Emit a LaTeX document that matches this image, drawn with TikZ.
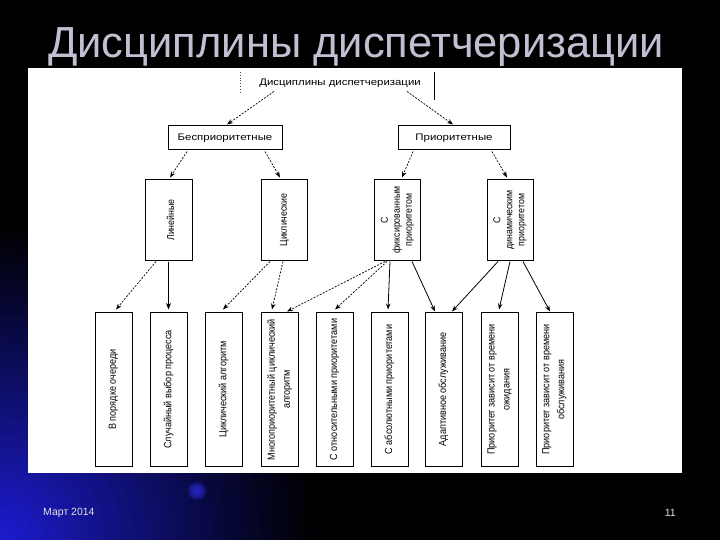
\documentclass[tikz,border=0pt]{standalone}
\usepackage{fontspec}
\setmainfont{Liberation Sans}
\newfontfamily\diagwide[FakeStretch=1.2]{Liberation Sans}
\newfontfamily\diagnarrow[FakeStretch=0.88]{Liberation Sans}
\usetikzlibrary{arrows.meta,calc}
\definecolor{titlegray}{RGB}{192,192,210}
\definecolor{footgray}{RGB}{225,225,225}
\definecolor{bgblueA}{RGB}{28,28,210}
\definecolor{dotblue}{RGB}{40,40,200}
\tikzset{
  lvlbox/.style={draw=black, line width=1bp, inner sep=0pt, fill=white},
  htext/.style={font=\diagwide\fontsize{9.5bp}{11bp}\selectfont, inner sep=2bp},
  vtext/.style={rotate=90, align=center, inner sep=0pt},
  vtwo/.style={vtext, font=\diagnarrow\fontsize{10bp}{12bp}\selectfont},
  vthree/.style={vtext, font=\diagnarrow\fontsize{10.3bp}{15bp}\selectfont},
  darr/.style={line width=0.7bp, dash pattern=on 2bp off 1.4bp, -{Stealth[length=6bp,width=4.5bp]}},
  sarr/.style={line width=0.8bp, -{Stealth[length=6bp,width=4.5bp]}},
  tarr/.style={line width=1.6bp, -{Stealth[length=6.5bp,width=5bp]}}
}
\begin{document}
\begin{tikzpicture}[x=1bp,y=-1bp]
\useasboundingbox (0,0) rectangle (720,540);
% background
\fill[black] (0,0) rectangle (720,540);
\begin{scope}
  \clip (0,0) rectangle (720,540);
  \foreach \r in {320,314,...,4} {
    \pgfmathsetmacro{\p}{100*(1-\r/320)^1.05}
    \fill[bgblueA!\p!black] (0,540) circle[radius=\r bp];
  }
  \foreach \r in {9,7.5,6,4.5,3} {
    \fill[dotblue, opacity=0.3] (197,491) circle[radius=\r bp];
  }
\end{scope}
% title
\node[anchor=base, text=titlegray, font=\fontsize{43.5bp}{48bp}\selectfont, inner sep=0pt] (title) at (356,58) {Дисциплины диспетчеризации};
% panel
\fill[white] (28,68) rectangle (682,473);
% root
\node[htext] (root) at (340,83) {Дисциплины диспетчеризации};
\draw[line width=0.8bp, dotted, black!70] (240,72) -- (240,94);
\draw[line width=1bp] (434,72) -- (434,100);
% level 1
\node[lvlbox, htext, minimum width=114bp, minimum height=24bp] (bp) at (225,138) {Бесприоритетные};
\node[lvlbox, htext, minimum width=112bp, minimum height=24bp] (pr) at (454,138) {Приоритетные};
% level 2
\node[lvlbox, minimum width=47bp, minimum height=80bp] (lin) at (168.5,220) {};
\node[vtwo] (lint) at ([xshift=2bp]lin.center) {Линейные};
\node[lvlbox, minimum width=46bp, minimum height=80bp] (cyc) at (284.5,220) {};
\node[vtwo] (cyct) at (cyc.center) {Циклические};
\node[lvlbox, minimum width=46bp, minimum height=80bp] (fix) at (397.5,220) {};
\node[vtwo] (fixt) at (fix.center) {С\\фиксированным\\приоритетом};
\node[lvlbox, minimum width=46bp, minimum height=80bp] (dyn) at (510,220) {};
\node[vtwo] (dynt) at (dyn.center) {С\\динамическим\\приоритетом};
% level 3
\foreach \n/\x in {b1/113.5,b2/168.5,b3/223.5,b4/279.5,b5/334.5,b6/389.5,b7/443.5,b8/499.5,b9/554.5}{
  \node[lvlbox, minimum width=37bp, minimum height=153bp] (\n) at (\x,389.5) {};
}
\node[vthree] (t1) at (b1.center) {В порядке очереди};
\node[vthree] (t2) at (b2.center) {Случайный выбор процесса};
\node[vthree] (t3) at (b3.center) {Циклический алгоритм};
\node[vthree] (t4) at (b4.center) {Многоприоритетный циклический\\алгоритм};
\node[vthree] (t5) at (b5.center) {С относительными приоритетами};
\node[vthree] (t6) at (b6.center) {С абсолютными приоритетами};
\node[vthree] (t7) at (b7.center) {Адаптивное обслуживание};
\node[vthree] (t8) at (b8.center) {Приоритет зависит от времени\\ожидания};
\node[vthree] (t9) at (b9.center) {Приоритет зависит от времени\\обслуживания};
% connectors root -> level 1
\draw[darr] ([xshift=-66bp,yshift=-2bp]root.south) -- ([xshift=2bp,yshift=1bp]bp.north);
\draw[darr] ([xshift=67bp,yshift=-2bp]root.south) -- ([xshift=-1bp,yshift=1bp]pr.north);
% level 1 -> level 2
\draw[darr] ([xshift=-38bp,yshift=-1bp]bp.south) -- ([xshift=1.5bp,yshift=2bp]lin.north);
\draw[darr] ([xshift=40bp,yshift=-1bp]bp.south) -- ([xshift=-4.5bp,yshift=2bp]cyc.north);
\draw[darr] ([xshift=-41bp,yshift=-1bp]pr.south) -- ([xshift=4.5bp,yshift=2bp]fix.north);
\draw[darr] ([xshift=38bp,yshift=-1bp]pr.south) -- ([xshift=-3bp,yshift=2bp]dyn.north);
% level 2 -> level 3
\draw[darr] ([xshift=-12.5bp,yshift=-1bp]lin.south) -- ([xshift=2.5bp,yshift=3bp]b1.north);
\draw[tarr] ([yshift=-1bp]lin.south) -- ([yshift=3bp]b2.north);
\draw[darr] ([xshift=-14.5bp,yshift=-1bp]cyc.south) -- ([xshift=-0.5bp,yshift=3bp]b3.north);
\draw[darr] ([xshift=-1.5bp,yshift=-1bp]cyc.south) -- ([xshift=-7.5bp,yshift=3bp]b4.north);
\draw[darr] ([xshift=-12.5bp,yshift=-1bp]fix.south) -- ([xshift=7.5bp,yshift=1bp]b4.north);
\draw[darr] ([xshift=-10.5bp,yshift=-1bp]fix.south) -- ([xshift=0.5bp,yshift=3bp]b5.north);
\draw[sarr] ([xshift=-7.5bp,yshift=-1bp]fix.south) -- ([xshift=-1.5bp,yshift=3bp]b6.north);
\draw[sarr] ([xshift=14.5bp,yshift=-1bp]fix.south) -- ([xshift=-8.5bp,yshift=1bp]b7.north);
\draw[sarr] ([xshift=-12bp,yshift=-1bp]dyn.south) -- ([xshift=8.5bp,yshift=1bp]b7.north);
\draw[sarr] ([yshift=-1bp]dyn.south) -- ([xshift=-0.5bp,yshift=3bp]b8.north);
\draw[sarr] ([xshift=13bp,yshift=-1bp]dyn.south) -- ([xshift=-4.5bp,yshift=1bp]b9.north);
% footer
\node[anchor=west, text=footgray, font=\fontsize{10.5bp}{12bp}\selectfont, inner sep=0pt] (date) at (43,513) {Март 2014};
\node[anchor=east, text=footgray, font=\fontsize{10.5bp}{12bp}\selectfont, inner sep=0pt] (page) at (676,513) {11};
\end{tikzpicture}
\end{document}
